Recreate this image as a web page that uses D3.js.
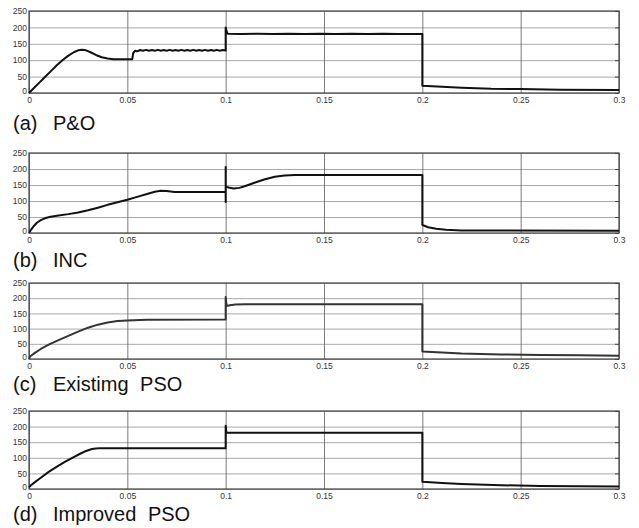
<!DOCTYPE html>
<html>
<head>
<meta charset="utf-8">
<script src="https://cdn.jsdelivr.net/npm/d3@7"></script>
<style>
  body { margin: 0; background: #fff; }
  text { font-family: "Liberation Sans", Arial, sans-serif; }
</style>
</head>
<body>
<script>
// values: [time (s), power]
let seriesPO = [
  [0, 0], [0.002, 12], [0.005, 30], [0.008, 48], [0.011, 66], [0.014, 84], [0.017, 100],
  [0.02, 114], [0.023, 125], [0.025, 130], [0.027, 132], [0.029, 130], [0.031, 125],
  [0.034, 116], [0.037, 109], [0.04, 105], [0.043, 103], [0.047, 103], [0.0525, 103],
  [0.053, 122], [0.054, 129], [0.055, 127], [0.0565, 131], [0.058, 129], [0.0595, 131.5],
  [0.061, 129], [0.0625, 131], [0.064, 129], [0.0655, 131.5], [0.067, 129], [0.0685, 131],
  [0.07, 129], [0.0715, 131.5], [0.073, 129], [0.0745, 131], [0.076, 129], [0.0775, 131.5],
  [0.079, 129], [0.0805, 131], [0.082, 129], [0.0835, 131.5], [0.085, 129], [0.0865, 131],
  [0.088, 129], [0.0895, 131.5], [0.091, 129], [0.0925, 131], [0.094, 129], [0.0955, 131.5],
  [0.097, 129], [0.0985, 131], [0.1, 129.5], [0.1, 200], [0.1006, 186], [0.101, 181],
  [0.108, 179.5], [0.116, 181], [0.124, 179.5], [0.132, 181], [0.14, 179.5], [0.148, 181],
  [0.156, 179.5], [0.164, 181], [0.172, 179.5], [0.18, 181], [0.188, 179.5], [0.2, 180],
  [0.2, 22], [0.21, 19], [0.22, 16], [0.235, 13], [0.25, 12], [0.27, 10], [0.3, 9]
];
let seriesINC = [
  [0, 0], [0.001, 10], [0.0025, 22], [0.004, 32], [0.006, 40], [0.008, 46], [0.011, 51],
  [0.015, 55], [0.02, 59], [0.025, 64], [0.03, 71], [0.035, 79], [0.04, 88], [0.045, 96],
  [0.05, 104], [0.055, 113], [0.06, 122], [0.064, 129], [0.067, 132], [0.07, 131],
  [0.074, 128], [0.08, 128], [0.1, 128], [0.1, 206], [0.1, 97], [0.1, 145],
  [0.1015, 142], [0.104, 139], [0.107, 141], [0.11, 147], [0.115, 158], [0.12, 168],
  [0.125, 176], [0.13, 180], [0.135, 181], [0.2, 181], [0.2, 25], [0.203, 18],
  [0.207, 13], [0.212, 10], [0.22, 8], [0.3, 7]
];
let seriesPSO = [
  [0, 0], [0.0005, 8], [0.003, 20], [0.006, 33], [0.01, 47], [0.015, 62], [0.02, 76],
  [0.025, 90], [0.03, 103], [0.035, 113], [0.04, 120], [0.045, 125], [0.05, 127],
  [0.06, 129], [0.1, 130], [0.1, 204], [0.1005, 174], [0.102, 177], [0.105, 179],
  [0.11, 180], [0.2, 180], [0.2, 25], [0.21, 21], [0.22, 18], [0.24, 15], [0.26, 13],
  [0.28, 12], [0.3, 11]
];
let seriesIPSO = [
  [0, 5], [0.001, 12], [0.003, 22], [0.006, 36], [0.01, 55], [0.014, 71], [0.018, 86],
  [0.022, 100], [0.026, 113], [0.029, 122], [0.032, 128], [0.034, 130], [0.036, 131],
  [0.1, 131], [0.1, 203], [0.1004, 180], [0.2, 180], [0.2, 23], [0.21, 19], [0.22, 16],
  [0.24, 12], [0.26, 10], [0.28, 9], [0.3, 8]
];

let captionTags = ["(a)", "(b)", "(c)", "(d)"];
let captionNames = ["P&O", "INC", "Existimg PSO", "Improved PSO"];
let xTicks = [0, 0.05, 0.1, 0.15, 0.2, 0.25, 0.3];
let yTicks = [0, 50, 100, 150, 200, 250];

let allSeries = [seriesPO, seriesINC, seriesPSO, seriesIPSO];

// panel boxes (top, bottom, caption baseline)
let panels = [
  { top: 11, bottom: 93, cap: 130 },
  { top: 153, bottom: 233, cap: 267 },
  { top: 283, bottom: 359, cap: 391 },
  { top: 411, bottom: 489, cap: 521 }
];
let left = 29, right = 619;

let svg = d3.select("body").append("svg")
  .attr("width", 639)
  .attr("height", 528);

svg.append("rect").attr("width", 639).attr("height", 528).attr("fill", "#fff");

let x = d3.scaleLinear().domain([0, 0.3]).range([left, right]);

panels.forEach((p, i) => {
  let y = d3.scaleLinear().domain([0, 250]).range([p.bottom, p.top]);
  let g = svg.append("g");

  // horizontal grid
  g.append("g")
    .attr("transform", "translate(" + left + ",0)")
    .call(d3.axisLeft(y).tickValues(yTicks).tickSize(-(right - left)).tickFormat(""))
    .call(a => a.select(".domain").remove())
    .selectAll("line").attr("stroke", "#a8a8a8").attr("stroke-width", 1);

  // vertical grid
  g.append("g")
    .attr("transform", "translate(0," + p.bottom + ")")
    .call(d3.axisBottom(x).tickValues(xTicks).tickSize(-(p.bottom - p.top)).tickFormat(""))
    .call(a => a.select(".domain").remove())
    .selectAll("line").attr("stroke", "#5a5a5a").attr("stroke-width", 0.8);

  // right inner ticks
  g.append("g")
    .attr("transform", "translate(" + right + ",0)")
    .call(d3.axisRight(y).tickValues(yTicks).tickSize(-4).tickFormat(""))
    .call(a => a.select(".domain").remove())
    .selectAll("line").attr("stroke", "#444");

  // y labels
  g.append("g")
    .attr("transform", "translate(" + left + ",0)")
    .call(d3.axisLeft(y).tickValues(yTicks).tickSize(0).tickPadding(2))
    .call(a => a.select(".domain").remove())
    .selectAll("text")
    .attr("font-family", "Liberation Sans, Arial, sans-serif")
    .attr("font-size", 8.5).attr("fill", "#333")
    .attr("dy", d => d === 0 ? "0.05em" : "0.32em");

  // x labels
  g.append("g")
    .attr("transform", "translate(0," + p.bottom + ")")
    .call(d3.axisBottom(x).tickValues(xTicks).tickSize(0).tickPadding(4)
      .tickFormat(t => String(+t.toFixed(2))))
    .call(a => a.select(".domain").remove())
    .selectAll("text")
    .attr("font-family", "Liberation Sans, Arial, sans-serif")
    .attr("font-size", 8.5).attr("fill", "#333");

  // frame
  g.append("rect")
    .attr("x", left).attr("y", p.top)
    .attr("width", right - left).attr("height", p.bottom - p.top)
    .attr("fill", "none").attr("stroke", "#444").attr("stroke-width", 1.2);

  g.append("path")
    .datum(allSeries[i])
    .attr("fill", "none")
    .attr("stroke", i === 2 ? "#333" : "#111")
    .attr("stroke-width", 2)
    .attr("stroke-linejoin", "round")
    .attr("d", d3.line().x(d => x(d[0])).y(d => y(d[1])));

  svg.append("text")
    .attr("x", 13).attr("y", p.cap)
    .attr("font-size", 20).attr("fill", "#111")
    .text(captionTags[i]);
  svg.append("text")
    .attr("x", 53).attr("y", p.cap)
    .attr("font-size", 20).attr("fill", "#111")
    .attr("word-spacing", 6)
    .text(captionNames[i]);
});
</script>
</body>
</html>
